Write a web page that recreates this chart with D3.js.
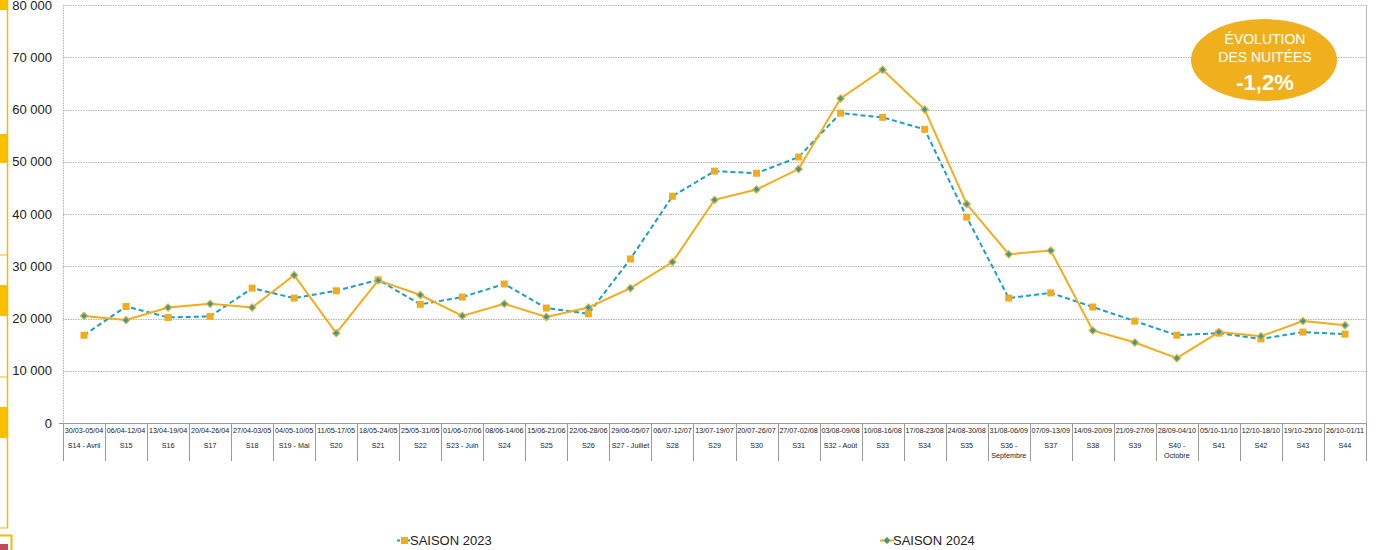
<!DOCTYPE html>
<html>
<head>
<meta charset="utf-8">
<script src="https://cdn.jsdelivr.net/npm/d3@7"></script>
<style>
  html, body { margin: 0; padding: 0; background: #fff; }
  svg { display: block; font-family: "Liberation Sans", Arial, sans-serif; }
</style>
</head>
<body>
<svg id="chart" width="1380" height="550"></svg>
<script>
// ---------- DATA ----------
const dates = ["30/03-05/04","06/04-12/04","13/04-19/04","20/04-26/04","27/04-03/05","04/05-10/05","11/05-17/05","18/05-24/05","25/05-31/05","01/06-07/06","08/06-14/06","15/06-21/06","22/06-28/06","29/06-05/07","06/07-12/07","13/07-19/07","20/07-26/07","27/07-02/08","03/08-09/08","10/08-16/08","17/08-23/08","24/08-30/08","31/08-06/09","07/09-13/09","14/09-20/09","21/09-27/09","28/09-04/10","05/10-11/10","12/10-18/10","19/10-25/10","26/10-01/11"];
const weeks = ["S14 - Avril","S15","S16","S17","S18","S19 - Mai","S20","S21","S22","S23 - Juin","S24","S25","S26","S27 - Juillet","S28","S29","S30","S31","S32 - Août","S33","S34","S35","S36 - Septembre","S37","S38","S39","S40 - Octobre","S41","S42","S43","S44"];
const saison2023 = [16800,22300,20200,20400,25800,23900,25300,27400,22700,24100,26600,22000,20900,31400,43400,48200,47800,50900,59300,58500,56200,39400,23900,24900,22200,19500,16800,17200,16100,17400,17000];
const saison2024 = [20500,19700,22100,22800,22100,28300,17200,27300,24500,20500,22800,20300,22100,25800,30800,42700,44700,48600,62100,67600,60000,41900,32300,33000,17700,15400,12400,17400,16600,19500,18700];
const yTicks = [0,10000,20000,30000,40000,50000,60000,70000,80000];
const seriesNames = ["SAISON 2023","SAISON 2024"];
const badgeLines = ["ÉVOLUTION","DES NUITÉES","-1,2%"];

// ---------- STYLE ----------
const ORANGE = "#F3AC1C";
const TEAL = "#1E9FC0";
const svg = d3.select("#chart");

const margin = {left: 63, right: 1366, top: 5, bottom: 423};
const x = d3.scaleBand().domain(weeks).range([margin.left, margin.right]).padding(0);
const y = d3.scaleLinear().domain([0, 80000]).range([margin.bottom, margin.top]);
const fmt = d3.formatLocale({decimal: ",", thousands: " ", grouping: [3], currency: ["", "€"]}).format(",");

// ---------- LEFT DECORATION (cropped dashboard frame) ----------
const deco = svg.append("g");
deco.append("line").attr("x1", 7.5).attr("x2", 7.5).attr("y1", 0).attr("y2", 528).attr("stroke", "#F5B90A").attr("stroke-width", 1.5);
[[0, 10], [134, 29], [285, 31], [407, 31]].forEach(([yy, h]) => {
  deco.append("rect").attr("x", 0).attr("y", yy).attr("width", 7.5).attr("height", h).attr("fill", "#F9BE00");
});
[255, 377, 528].forEach(yy => deco.append("line").attr("x1", 0).attr("x2", 7.5).attr("y1", yy).attr("y2", yy).attr("stroke", "#F5B90A").attr("stroke-width", 1));
deco.append("path").attr("d", "M0,535.5 H11.5 V550").attr("fill", "none").attr("stroke", "#F5B90A").attr("stroke-width", 2);
deco.append("rect").attr("x", 0).attr("y", 544).attr("width", 8).attr("height", 6).attr("fill", "#C8455A");

// ---------- GRID ----------
const grid = svg.append("g");
grid.selectAll("line.g").data(yTicks.filter(d => d > 0)).join("line")
  .attr("x1", margin.left).attr("x2", margin.right)
  .attr("y1", d => Math.round(y(d)) + 0.5).attr("y2", d => Math.round(y(d)) + 0.5)
  .attr("stroke", "#b5b5b5").attr("stroke-width", 1).attr("stroke-dasharray", "1.5,1");
grid.append("line").attr("x1", margin.left + 0.5).attr("x2", margin.left + 0.5)
  .attr("y1", margin.top).attr("y2", margin.bottom).attr("stroke", "#b5b5b5").attr("stroke-dasharray", "1.5,1");
grid.append("line").attr("x1", margin.right + 0.5).attr("x2", margin.right + 0.5)
  .attr("y1", margin.top).attr("y2", 461).attr("stroke", "#b8b8b8");

// ---------- Y AXIS LABELS ----------
svg.append("g").selectAll("text").data(yTicks).join("text")
  .attr("x", 52).attr("y", d => y(d)).attr("dy", "0.36em")
  .attr("text-anchor", "end").attr("font-size", 13).attr("fill", "#222")
  .text(d => fmt(d));

// ---------- X AXIS ----------
const xa = svg.append("g");
xa.append("line").attr("x1", margin.left - 4).attr("x2", margin.right)
  .attr("y1", margin.bottom + 0.5).attr("y2", margin.bottom + 0.5).attr("stroke", "#9a9a9a");
const bounds = weeks.map(w => x(w)).concat([margin.right]);
xa.selectAll("line.sep").data(bounds).join("line")
  .attr("x1", d => Math.round(d) + 0.5).attr("x2", d => Math.round(d) + 0.5)
  .attr("y1", margin.bottom).attr("y2", 461).attr("stroke", "#9a9a9a");
xa.selectAll("text.date").data(dates).join("text")
  .attr("x", (d, i) => x(weeks[i]) + x.bandwidth() / 2).attr("y", 433)
  .attr("text-anchor", "middle").attr("font-size", 7.2).attr("fill", "#222")
  .text(d => d);
const wk = xa.selectAll("text.wk").data(weeks).join("text")
  .attr("x", d => x(d) + x.bandwidth() / 2).attr("y", 448)
  .attr("text-anchor", "middle").attr("font-size", 7.2).attr("fill", "#222");
wk.each(function(d) {
  const t = d3.select(this);
  t.text(d);
  if (this.getComputedTextLength() > x.bandwidth() - 4) {
    t.text(null);
    const words = d.split(" ");
    const cxx = x(d) + x.bandwidth() / 2;
    const last = words.pop();
    t.append("tspan").attr("x", cxx).attr("dy", 0).text(words.join(" "));
    t.append("tspan").attr("x", cxx).attr("dy", 9.5).text(last);
  }
});

// ---------- LINES ----------
const cx = i => x(weeks[i]) + x.bandwidth() / 2;
const line = d3.line().x((d, i) => cx(i)).y(d => y(d));
svg.append("path").datum(saison2023).attr("d", line)
  .attr("fill", "none").attr("stroke", TEAL).attr("stroke-width", 2).attr("stroke-dasharray", "5,3");
svg.append("path").datum(saison2024).attr("d", line)
  .attr("fill", "none").attr("stroke", ORANGE).attr("stroke-width", 2);

svg.append("g").selectAll("rect").data(saison2023).join("rect")
  .attr("x", (d, i) => cx(i) - 3.5).attr("y", d => y(d) - 3.5)
  .attr("width", 7).attr("height", 7).attr("fill", ORANGE);
const diamond = (px, py, r) => `M${px},${py - r}L${px + r},${py}L${px},${py + r}L${px - r},${py}Z`;
svg.append("g").selectAll("path").data(saison2024).join("path")
  .attr("d", (d, i) => diamond(cx(i), y(d), 3.6))
  .attr("fill", TEAL).attr("stroke", ORANGE).attr("stroke-width", 1.2);

// ---------- LEGEND ----------
const lg = svg.append("g");
lg.append("line").attr("x1", 397).attr("x2", 412).attr("y1", 540.5).attr("y2", 540.5)
  .attr("stroke", TEAL).attr("stroke-width", 2).attr("stroke-dasharray", "3,2");
lg.append("rect").attr("x", 401).attr("y", 537).attr("width", 7).attr("height", 7).attr("fill", ORANGE);
lg.append("text").attr("x", 410).attr("y", 545).attr("font-size", 13).attr("fill", "#222").text(seriesNames[0]);
lg.append("line").attr("x1", 880).attr("x2", 894).attr("y1", 540.5).attr("y2", 540.5)
  .attr("stroke", ORANGE).attr("stroke-width", 2);
lg.append("path").attr("d", diamond(887, 540.5, 3.4)).attr("fill", TEAL).attr("stroke", ORANGE).attr("stroke-width", 1);
lg.append("text").attr("x", 893).attr("y", 545).attr("font-size", 13).attr("fill", "#222").text(seriesNames[1]);

// ---------- BADGE ----------
const bg = svg.append("g");
bg.append("ellipse").attr("cx", 1264).attr("cy", 60).attr("rx", 73).attr("ry", 41).attr("fill", "#F0B01E");
bg.append("text").attr("x", 1265).attr("y", 44).attr("text-anchor", "middle").attr("font-size", 14).attr("fill", "#fff").text(badgeLines[0]);
bg.append("text").attr("x", 1265).attr("y", 62).attr("text-anchor", "middle").attr("font-size", 14).attr("fill", "#fff").text(badgeLines[1]);
bg.append("text").attr("x", 1265).attr("y", 90).attr("text-anchor", "middle").attr("font-size", 22).attr("font-weight", "bold").attr("fill", "#fff").text(badgeLines[2]);
</script>
</body>
</html>
